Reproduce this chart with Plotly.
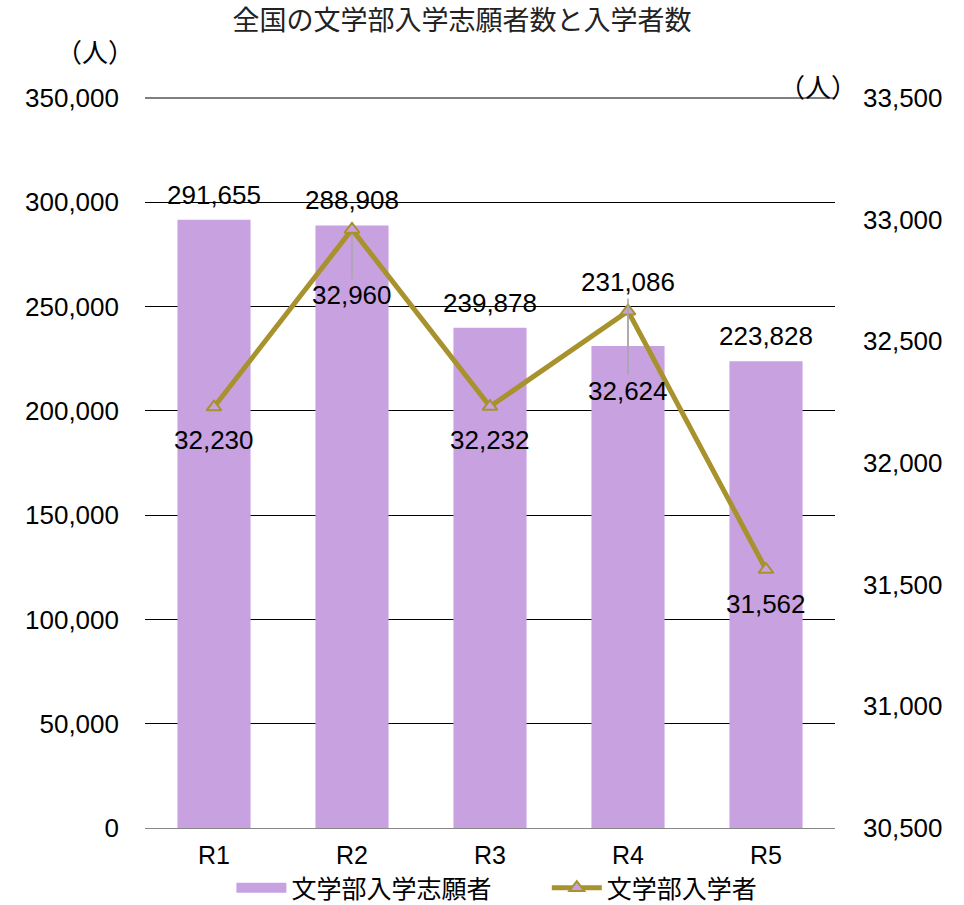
import plotly.graph_objects as go

# Data
years = ["R1", "R2", "R3", "R4", "R5"]
applicants = [291655, 288908, 239878, 231086, 223828]   # 文学部入学志願者
enrolled = [32230, 32960, 32232, 32624, 31562]          # 文学部入学者

left_ticks = [0, 50000, 100000, 150000, 200000, 250000, 300000, 350000]
right_ticks = [30500, 31000, 31500, 32000, 32500, 33000, 33500]

# label offsets in pixels (positive = up)
bar_label_shift = [25, 25, 25, 64, 25]
line_label_shift = [-33, -66, -33, -80, -34]

BAR = "#C8A2E0"
LINE = "#A8922E"
GRAY = "#A6A6A6"
NUM_FONT = "Liberation Sans, Arial, sans-serif"
JP_FONT = "Noto Sans CJK JP, sans-serif"
FS = 26
NBSP = "\u00a0"

fig = go.Figure()
fig.add_trace(go.Bar(
    x=years, y=applicants, name="文学部入学志願者",
    marker=dict(color=BAR, line=dict(width=0)), width=0.53,
    hoverinfo="skip", showlegend=False,
))
# legend entry for the bars drawn as a wide swatch
fig.add_trace(go.Scatter(
    x=[None], y=[None], name="文学部入学志願者" + NBSP * 9,
    mode="lines", line=dict(color=BAR, width=12),
    hoverinfo="skip",
))
fig.add_trace(go.Scatter(
    x=years, y=enrolled, name="文学部入学者", yaxis="y2",
    mode="lines+markers",
    line=dict(color=LINE, width=5),
    marker=dict(symbol="triangle-up", size=13, color=BAR,
                line=dict(color=LINE, width=2)),
    hoverinfo="skip",
))

annotations = []
for x, v, s in zip(years, applicants, bar_label_shift):
    a = dict(x=x, y=v, xref="x", yref="y", text=f"{v:,}",
             font=dict(family=NUM_FONT, size=FS, color="black"),
             yanchor="middle")
    if s > 40:
        a.update(showarrow=True, ax=0, ay=-s, arrowhead=0, arrowwidth=1.5,
                 arrowcolor=GRAY, standoff=0)
    else:
        a.update(showarrow=False, yshift=s)
    annotations.append(a)

for x, v, s in zip(years, enrolled, line_label_shift):
    a = dict(x=x, y=v, xref="x", yref="y2", text=f"{v:,}",
             font=dict(family=NUM_FONT, size=FS, color="black"),
             yanchor="middle")
    if s < -40:
        a.update(showarrow=True, ax=0, ay=-s, arrowhead=0, arrowwidth=1.5,
                 arrowcolor=GRAY, standoff=5)
    else:
        a.update(showarrow=False, yshift=s)
    annotations.append(a)

W, H = 964, 905
L, R, T, B = 145, 129, 98, 77
pw, ph = W - L - R, H - T - B

# unit labels (pixel positions converted to paper coordinates)
for px, py in [(95, 50), (818, 85)]:
    annotations.append(dict(x=(px - L) / pw, y=1 - (py - T) / ph,
                            xref="paper", yref="paper", text="（人）",
                            showarrow=False, xanchor="center", yanchor="middle",
                            font=dict(family=JP_FONT, size=FS, color="black")))

fig.update_layout(
    width=W, height=H,
    margin=dict(l=L, r=R, t=T, b=B, autoexpand=False),
    paper_bgcolor="white", plot_bgcolor="white",
    title=dict(text="全国の文学部入学志願者数と入学者数",
               x=462 / W, xref="container", xanchor="center",
               y=1 - 21 / H, yref="container", yanchor="middle",
               font=dict(family=JP_FONT, size=27, color="#222")),
    font=dict(family=NUM_FONT, size=FS, color="black"),
    xaxis=dict(showgrid=False, showline=True, linecolor="#888", linewidth=1,
               ticks="", tickfont=dict(size=25), ticklabelstandoff=5),
    yaxis=dict(range=[0, 350000], tickvals=left_ticks,
               ticktext=[f"{t:,}" for t in left_ticks],
               showgrid=True, gridcolor="#000", gridwidth=1,
               zeroline=False, ticks="", ticklabelstandoff=25),
    yaxis2=dict(range=[30500, 33500], tickvals=right_ticks,
                ticktext=[f"{t:,}" for t in right_ticks],
                overlaying="y", side="right", showgrid=False,
                zeroline=False, ticks="", ticklabelstandoff=27),
    legend=dict(orientation="h", x=0.51, xanchor="center",
                y=-60 / ph, yanchor="middle", bgcolor="rgba(0,0,0,0)",
                font=dict(family=JP_FONT, size=25), itemwidth=50,
                traceorder="normal", tracegroupgap=0),
    shapes=[dict(type="line", xref="x domain", yref="y domain",
                 x0=0, x1=1, y0=1, y1=1, line=dict(color="#000", width=1),
                 layer="below")],
    annotations=annotations,
    showlegend=True,
)

fig.write_html("out.html")
